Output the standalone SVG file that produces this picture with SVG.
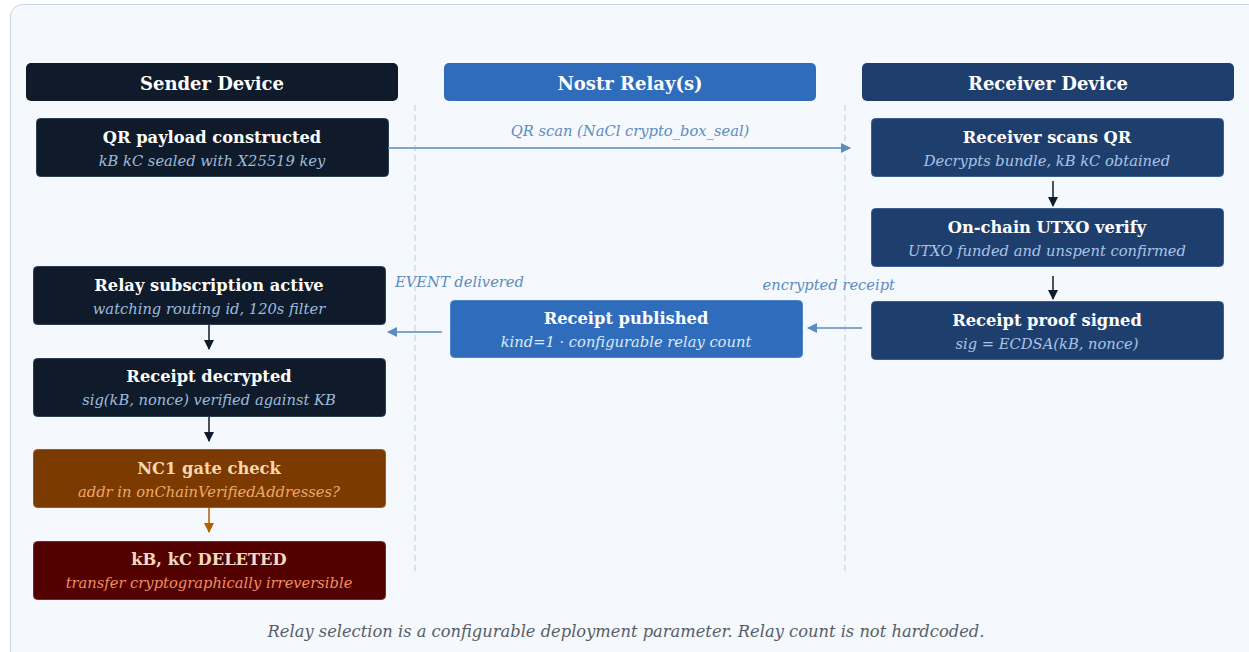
<svg xmlns="http://www.w3.org/2000/svg" width="1249" height="652" viewBox="0 0 1249 652">
<defs>
<marker id="ab" markerWidth="10" markerHeight="10" refX="9" refY="5" orient="auto" markerUnits="userSpaceOnUse"><path d="M0,0 L10,5 L0,10 z" fill="#5b8cc0"/></marker>
<marker id="ad" markerWidth="10" markerHeight="10" refX="9" refY="5" orient="auto" markerUnits="userSpaceOnUse"><path d="M0,0 L10,5 L0,10 z" fill="#0f1b2a"/></marker>
<marker id="ao" markerWidth="10" markerHeight="10" refX="9" refY="5" orient="auto" markerUnits="userSpaceOnUse"><path d="M0,0 L10,5 L0,10 z" fill="#b85c00"/></marker>
</defs>
<style>
.t{font-family:"DejaVu Serif",serif;font-weight:bold;font-size:16.3px;text-anchor:middle}
.h{font-family:"DejaVu Serif",serif;font-weight:bold;font-size:18px;fill:#ffffff;text-anchor:middle}
.s{font-family:"DejaVu Serif",serif;font-style:italic;font-size:14.7px;text-anchor:middle}
.lbl{font-family:"DejaVu Serif",serif;font-style:italic;font-size:14.7px;fill:#5b8cc0}
.life{stroke:#b8cde3;stroke-width:1;stroke-dasharray:6,4}
.snd{fill:#0f1b2a;stroke:#2c3e55;stroke-width:1}
.rcv{fill:#1e3f6e;stroke:#3d5f8c;stroke-width:1}
.rly{fill:#2f6dbc;stroke:#4a84cc;stroke-width:1}
</style>
<rect x="10.5" y="4.5" width="1250" height="660" rx="12" fill="#f5f8fc" stroke="#c5d6ea"/>
<g id="lifelines">
<line class="life" x1="415" y1="105" x2="415" y2="575"/>
<line class="life" x1="845" y1="105" x2="845" y2="575"/>
</g>
<g id="hdr-sender"><rect x="26" y="63" width="372" height="38" rx="5" fill="#0f1b2a"/><text class="h" x="212" y="90">Sender Device</text></g>
<g id="hdr-relay"><rect x="444" y="63" width="372" height="38" rx="5" fill="#2f6dbc"/><text class="h" x="630" y="90">Nostr Relay(s)</text></g>
<g id="hdr-receiver"><rect x="862" y="63" width="372" height="38" rx="5" fill="#1e3f6e"/><text class="h" x="1048" y="90">Receiver Device</text></g>

<g id="n-qr"><rect class="snd" x="36.5" y="118.5" width="352" height="58" rx="4"/><text class="t" x="212" y="143" fill="#ffffff">QR payload constructed</text><text class="s" x="212" y="166" fill="#9dbbdc">kB kC sealed with X25519 key</text></g>
<g id="n-sub"><rect class="snd" x="33.5" y="266.5" width="352" height="58" rx="4"/><text class="t" x="209" y="291" fill="#ffffff">Relay subscription active</text><text class="s" x="209" y="314" fill="#9dbbdc">watching routing id, 120s filter</text></g>
<g id="n-dec"><rect class="snd" x="33.5" y="358.5" width="352" height="58" rx="4"/><text class="t" x="209" y="382" fill="#ffffff">Receipt decrypted</text><text class="s" x="209" y="405" fill="#9dbbdc">sig(kB, nonce) verified against KB</text></g>
<g id="n-nc1"><rect x="33.5" y="449.5" width="352" height="58" rx="4" fill="#7a3a00" stroke="#9a5a20"/><text class="t" x="209" y="474" fill="#f8d8b0">NC1 gate check</text><text class="s" x="209" y="497" fill="#f0a868">addr in onChainVerifiedAddresses?</text></g>
<g id="n-del"><rect x="33.5" y="541.5" width="352" height="58" rx="4" fill="#520000" stroke="#7a2a2a"/><text class="t" x="209" y="565" fill="#f8d8c0">kB, kC DELETED</text><text class="s" x="209" y="588" fill="#f09060">transfer cryptographically irreversible</text></g>

<g id="n-pub"><rect class="rly" x="450.5" y="300.5" width="352" height="57" rx="4"/><text class="t" x="626" y="324" fill="#ffffff">Receipt published</text><text class="s" x="626" y="347" fill="#dce8f8">kind=1 · configurable relay count</text></g>

<g id="n-scan"><rect class="rcv" x="871.5" y="118.5" width="352" height="58" rx="4"/><text class="t" x="1047" y="143" fill="#ffffff">Receiver scans QR</text><text class="s" x="1047" y="166" fill="#a8c4e6">Decrypts bundle, kB kC obtained</text></g>
<g id="n-utxo"><rect class="rcv" x="871.5" y="208.5" width="352" height="58" rx="4"/><text class="t" x="1047" y="233" fill="#ffffff">On-chain UTXO verify</text><text class="s" x="1047" y="256" fill="#a8c4e6">UTXO funded and unspent confirmed</text></g>
<g id="n-sign"><rect class="rcv" x="871.5" y="301.5" width="352" height="58" rx="4"/><text class="t" x="1047" y="326" fill="#ffffff">Receipt proof signed</text><text class="s" x="1047" y="349" fill="#a8c4e6">sig = ECDSA(kB, nonce)</text></g>

<g id="connectors">
<line x1="388" y1="148" x2="850" y2="148" stroke="#5b8cc0" stroke-width="1.5" marker-end="url(#ab)"/>
<text class="lbl" x="630" y="136" text-anchor="middle">QR scan (NaCl crypto_box_seal)</text>
<line x1="862" y1="328" x2="808" y2="328" stroke="#5b8cc0" stroke-width="1.5" marker-end="url(#ab)"/>
<text class="lbl" x="895" y="290" text-anchor="end">encrypted receipt</text>
<line x1="442" y1="332" x2="388" y2="332" stroke="#5b8cc0" stroke-width="1.5" marker-end="url(#ab)"/>
<text class="lbl" x="395" y="287">EVENT delivered</text>
<line x1="1053" y1="181" x2="1053" y2="206" stroke="#0f1b2a" stroke-width="1.5" marker-end="url(#ad)"/>
<line x1="1053" y1="276" x2="1053" y2="299" stroke="#0f1b2a" stroke-width="1.5" marker-end="url(#ad)"/>
<line x1="209" y1="325" x2="209" y2="349" stroke="#0f1b2a" stroke-width="1.5" marker-end="url(#ad)"/>
<line x1="209" y1="417" x2="209" y2="441" stroke="#0f1b2a" stroke-width="1.5" marker-end="url(#ad)"/>
<line x1="209" y1="508" x2="209" y2="532" stroke="#b85c00" stroke-width="1.5" marker-end="url(#ao)"/>
</g>
<text x="626" y="637" font-family="DejaVu Serif, serif" font-style="italic" font-size="16.3" fill="#555e68" text-anchor="middle">Relay selection is a configurable deployment parameter. Relay count is not hardcoded.</text>
</svg>
